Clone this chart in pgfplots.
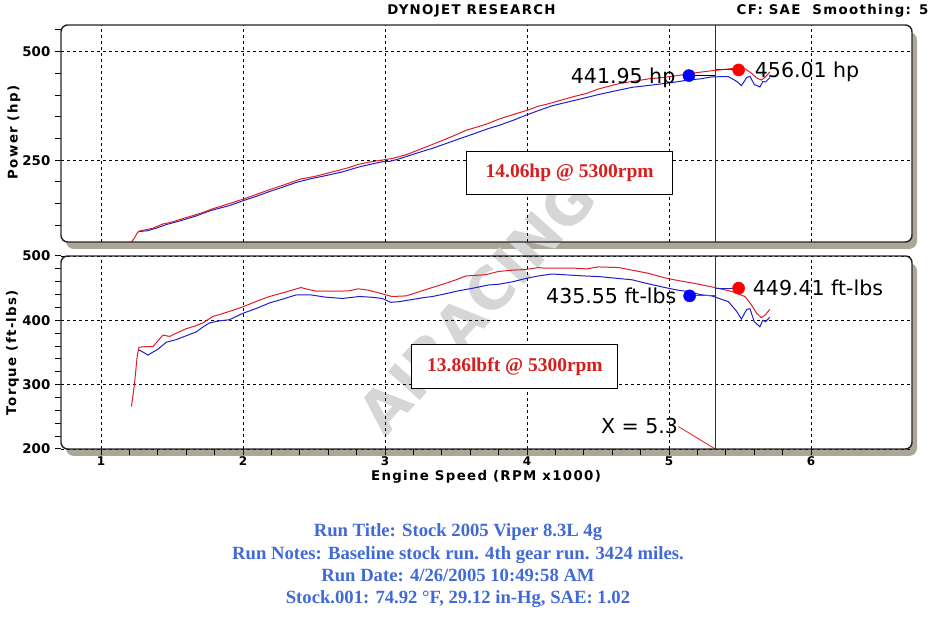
\documentclass[border=0pt]{standalone}
\usepackage{fontspec}
\usepackage{pgfplots}
\pgfplotsset{compat=1.18}
\setmainfont{Liberation Serif}
\newfontfamily\dvs{DejaVu Sans}
\newfontfamily\dvsl{DejaVu Sans}[LetterSpace=10]
\definecolor{cred}{RGB}{225,30,40}
\definecolor{cblue}{RGB}{30,30,210}
\definecolor{shad}{RGB}{170,166,152}
\definecolor{txtblue}{RGB}{65,105,215}
\definecolor{boxred}{RGB}{215,30,30}
\pgfplotsset{dyno/.style={
  scale only axis, width=638.25pt, xmin=0.718, xmax=6.711,
  axis line style={draw=none},
  grid=major,
  major grid style={dash pattern=on 2.25pt off 2.25pt, black, line width=0.6pt},
  tick style={black, line width=0.75pt},
  tick pos=left, tick align=outside,
  major tick length=4.5pt, minor tick length=4.5pt,
  /pgf/number format/assume math mode=true,
  yticklabel style={font=\dvs\bfseries\fontsize{10}{12}\selectfont},
  xticklabel style={font=\dvs\bfseries\fontsize{9}{10}\selectfont, yshift=2.5pt},
  clip=true,
}}
\begin{document}
\begin{tikzpicture}[x=0.75pt,y=0.75pt]
\useasboundingbox (0,0) rectangle (947,620);
% shadows and panels
\fill[shad, rounded corners=6pt] (66,371) rectangle (917,588);
\fill[shad, rounded corners=6pt] (66,164) rectangle (917,357);
\fill[white, rounded corners=5pt] (61,378) rectangle (912,595);
\fill[white, rounded corners=5pt] (61,171) rectangle (912,364);
% watermark
\node[rotate=48, text=black!16, font=\dvs\bfseries\fontsize{44}{44}\selectfont] at (477,315) {AIRACING};

% ---------------- Power panel ----------------
\begin{axis}[dyno, at={(45.75pt,283.5pt)}, anchor=south west, height=162.75pt,
  ymin=61.5, ymax=561.5, ytick={250,500},
  minor ytick={100,150,200,300,350,400,450,550},
  xtick={1,2,3,4,5,6}, xticklabels={}, major x tick style={draw=none}]
\addplot[black!80, line width=0.7pt] coordinates {(5.325,61.5)(5.325,561.5)};
\addplot[cblue, line width=0.75pt] coordinates {
(1.267,85.4)(1.30,86.6)(1.33,87.6)(1.40,94.6)(1.46,101.7)(1.53,107.8)(1.60,114.5)
(1.67,121.5)(1.72,127.7)(1.764,133.0)(1.83,139.0)(1.904,145.4)(2.00,156.5)(2.10,167.5)
(2.186,177.7)(2.28,188.0)(2.373,198.6)(2.479,207.4)(2.58,214.2)(2.70,223.1)(2.818,234.5)
(2.90,240.7)(2.98,246.3)(3.04,247.7)(3.10,253.2)(3.263,270.3)(3.333,277.3)(3.42,287.2)
(3.52,298.9)(3.62,310.2)(3.73,323.1)(3.80,329.9)(3.90,341.6)(3.99,353.3)(4.08,364.3)
(4.176,375.3)(4.29,384.3)(4.40,392.9)(4.505,401.4)(4.645,411.3)(4.74,417.9)(4.83,421.2)
(4.97,426.8)(5.06,430.7)(5.137,435.0)(5.22,437.3)(5.30,442.0)(5.418,442.6)(5.476,431.7)
(5.51,421.7)(5.547,440.4)(5.57,443.3)(5.60,424.4)(5.64,418.8)(5.66,431.1)(5.68,430.4)(5.71,440.3)};
\addplot[cred, line width=0.75pt] coordinates {
(1.214,61.5)(1.235,70.5)(1.255,82.4)(1.267,86.4)(1.30,88.9)(1.365,93.3)(1.40,98.1)
(1.436,103.1)(1.483,105.9)(1.53,110.7)(1.60,117.9)(1.66,123.6)(1.717,129.5)(1.787,138.1)
(1.85,144.4)(1.92,151.7)(2.00,160.3)(2.10,171.9)(2.186,181.9)(2.30,194.4)(2.408,206.8)
(2.46,209.8)(2.514,213.3)(2.60,220.5)(2.70,229.0)(2.75,233.5)(2.81,240.2)(2.88,245.1)
(2.95,248.8)(3.00,251.3)(3.05,253.8)(3.15,262.7)(3.26,276.8)(3.333,286.2)(3.42,297.6)
(3.50,308.6)(3.57,318.8)(3.65,326.6)(3.71,332.7)(3.80,344.4)(3.90,354.9)(3.99,363.9)
(4.08,374.4)(4.13,378.2)(4.20,384.7)(4.34,397.5)(4.42,404.0)(4.50,413.8)(4.645,426.3)
(4.74,431.4)(4.856,437.3)(4.97,441.0)(5.06,445.1)(5.20,452.0)(5.30,456.1)(5.44,460.9)
(5.535,460.6)(5.58,450.5)(5.617,439.6)(5.65,434.6)(5.676,440.9)(5.71,453.4)};
\addplot[black, line width=0.75pt] coordinates {(5.14,445)(5.325,445)};
\addplot[cblue, line width=0.75pt] coordinates {(5.325,458)(5.49,458)};
\addplot[only marks, mark=*, mark size=4.5pt, color=blue] coordinates {(5.14,445)};
\addplot[only marks, mark=*, mark size=4.5pt, color=red] coordinates {(5.49,458)};
\node[anchor=base east, inner sep=0, xshift=-10pt, yshift=-5.6pt,
  font=\dvs\fontsize{15.4}{18}\selectfont] at (axis cs:5.14,445) {441.95 hp};
\node[anchor=base west, inner sep=0, xshift=12pt, yshift=-5.6pt,
  font=\dvs\fontsize{15.4}{18}\selectfont] at (axis cs:5.49,458) {456.01 hp};
\node[draw=black, fill=white, line width=0.75pt, minimum width=154.5pt, minimum height=32.25pt,
  text=boxred, font=\bfseries\fontsize{14.6}{16}\selectfont] at (axis cs:4.30,221) {14.06hp @ 5300rpm};
\end{axis}

% ---------------- Torque panel ----------------
\begin{axis}[dyno, at={(45.75pt,128.25pt)}, anchor=south west, height=144.75pt,
  ymin=200, ymax=500, ytick={200,300,400,500}, minor y tick num=4,
  xtick={1,2,3,4,5,6}, minor x tick num=4]
\addplot[black!80, line width=0.7pt] coordinates {(5.325,200)(5.325,500)};
\addplot[cblue, line width=0.75pt] coordinates {
(1.267,354)(1.30,350)(1.33,346)(1.40,355)(1.46,366)(1.53,370)(1.60,376)(1.67,382)
(1.72,390)(1.764,396)(1.83,399)(1.904,401)(2.00,411)(2.10,419)(2.186,427)(2.28,433)
(2.373,439.5)(2.479,439.5)(2.58,436)(2.70,434)(2.818,437)(2.90,436)(2.98,434)(3.04,428)
(3.10,429)(3.263,435)(3.333,437)(3.42,441)(3.52,446)(3.62,450)(3.73,455)(3.80,456)
(3.90,460)(3.99,465)(4.08,469)(4.176,472)(4.29,470.5)(4.40,469)(4.505,468)(4.645,465)
(4.74,463)(4.83,458)(4.97,451)(5.06,447)(5.137,444.7)(5.22,440)(5.30,438)(5.418,429)
(5.476,414)(5.51,402)(5.547,417)(5.57,418)(5.60,398)(5.64,390)(5.66,400)(5.68,398)(5.71,405)};
\addplot[cred, line width=0.75pt] coordinates {
(1.214,266)(1.235,300)(1.255,345)(1.267,358)(1.30,359)(1.365,359)(1.40,368)(1.436,377)
(1.483,375)(1.53,380)(1.60,387)(1.66,391)(1.717,396)(1.787,406)(1.85,410)(1.92,415)
(2.00,421)(2.10,430)(2.186,437)(2.30,444)(2.408,451)(2.46,448)(2.514,445.5)(2.60,445.5)
(2.70,445.5)(2.75,446)(2.81,449)(2.88,447)(2.95,443)(3.00,440)(3.05,437)(3.15,438)
(3.26,446)(3.333,451)(3.42,457)(3.50,463)(3.57,469)(3.65,470)(3.71,471)(3.80,476)
(3.90,478)(3.99,479)(4.08,482)(4.13,481)(4.20,481)(4.34,481)(4.42,480)(4.50,483)
(4.645,482)(4.74,478)(4.856,473)(4.97,466)(5.06,462)(5.20,456.5)(5.30,452)(5.44,445)
(5.535,437)(5.58,424)(5.617,411)(5.65,404)(5.676,408)(5.71,417)};
\addplot[cred, line width=0.75pt] coordinates {(5.145,438)(5.325,438)};
\addplot[cblue, line width=0.75pt] coordinates {(5.325,450)(5.49,450)};
\addplot[cred, line width=0.6pt] coordinates {(5.065,235)(5.325,200)};
\addplot[only marks, mark=*, mark size=4.5pt, color=blue] coordinates {(5.145,438)};
\addplot[only marks, mark=*, mark size=4.5pt, color=red] coordinates {(5.49,450)};
\node[anchor=base east, inner sep=0, xshift=-9.75pt, yshift=-5.6pt,
  font=\dvs\fontsize{15.4}{18}\selectfont] at (axis cs:5.145,438) {435.55 ft-lbs};
\node[anchor=base west, inner sep=0, xshift=10.5pt, yshift=-5.6pt,
  font=\dvs\fontsize{15.4}{18}\selectfont] at (axis cs:5.49,450) {449.41 ft-lbs};
\node[anchor=base east, inner sep=0, yshift=-5.6pt,
  font=\dvs\fontsize{15.4}{18}\selectfont] at (axis cs:5.065,235.5) {X = 5.3};
\node[draw=black, fill=white, line width=0.75pt, minimum width=154.5pt, minimum height=33pt,
  text=boxred, font=\bfseries\fontsize{14.6}{16}\selectfont] at (axis cs:3.915,327.5) {13.86lbft @ 5300rpm};
\end{axis}

% frame outlines
\draw[line width=1.1pt, black!85, rounded corners=5pt] (61,378) rectangle (912,595);
\draw[line width=1.1pt, black!85, rounded corners=5pt] (61,171) rectangle (912,364);

% labels and titles
\node[font=\dvsl\bfseries\fontsize{10}{12}\selectfont] at (471.5,609.5) {DYNOJET RESEARCH};
\node[font=\dvsl\bfseries\fontsize{10}{12}\selectfont] at (832.5,609.5) {CF: SAE\ \ Smoothing: 5};
\node[rotate=90, font=\dvsl\bfseries\fontsize{10}{12}\selectfont] at (14,487.5) {Power (hp)};
\node[rotate=90, font=\dvsl\bfseries\fontsize{10}{12}\selectfont] at (12.5,267.5) {Torque (ft-lbs)};
\node[font=\dvsl\bfseries\fontsize{10}{12}\selectfont] at (486,143) {Engine Speed (RPM x1000)};
\node[align=center, text=txtblue, font=\bfseries\fontsize{14}{16.75}\selectfont] at (458,54)
  {Run Title: Stock 2005 Viper 8.3L 4g\\
   Run Notes: Baseline stock run. 4th gear run. 3424 miles.\\
   Run Date: 4/26/2005 10:49:58 AM\\
   Stock.001: 74.92 °F, 29.12 in-Hg, SAE: 1.02};
\end{tikzpicture}
\end{document}
